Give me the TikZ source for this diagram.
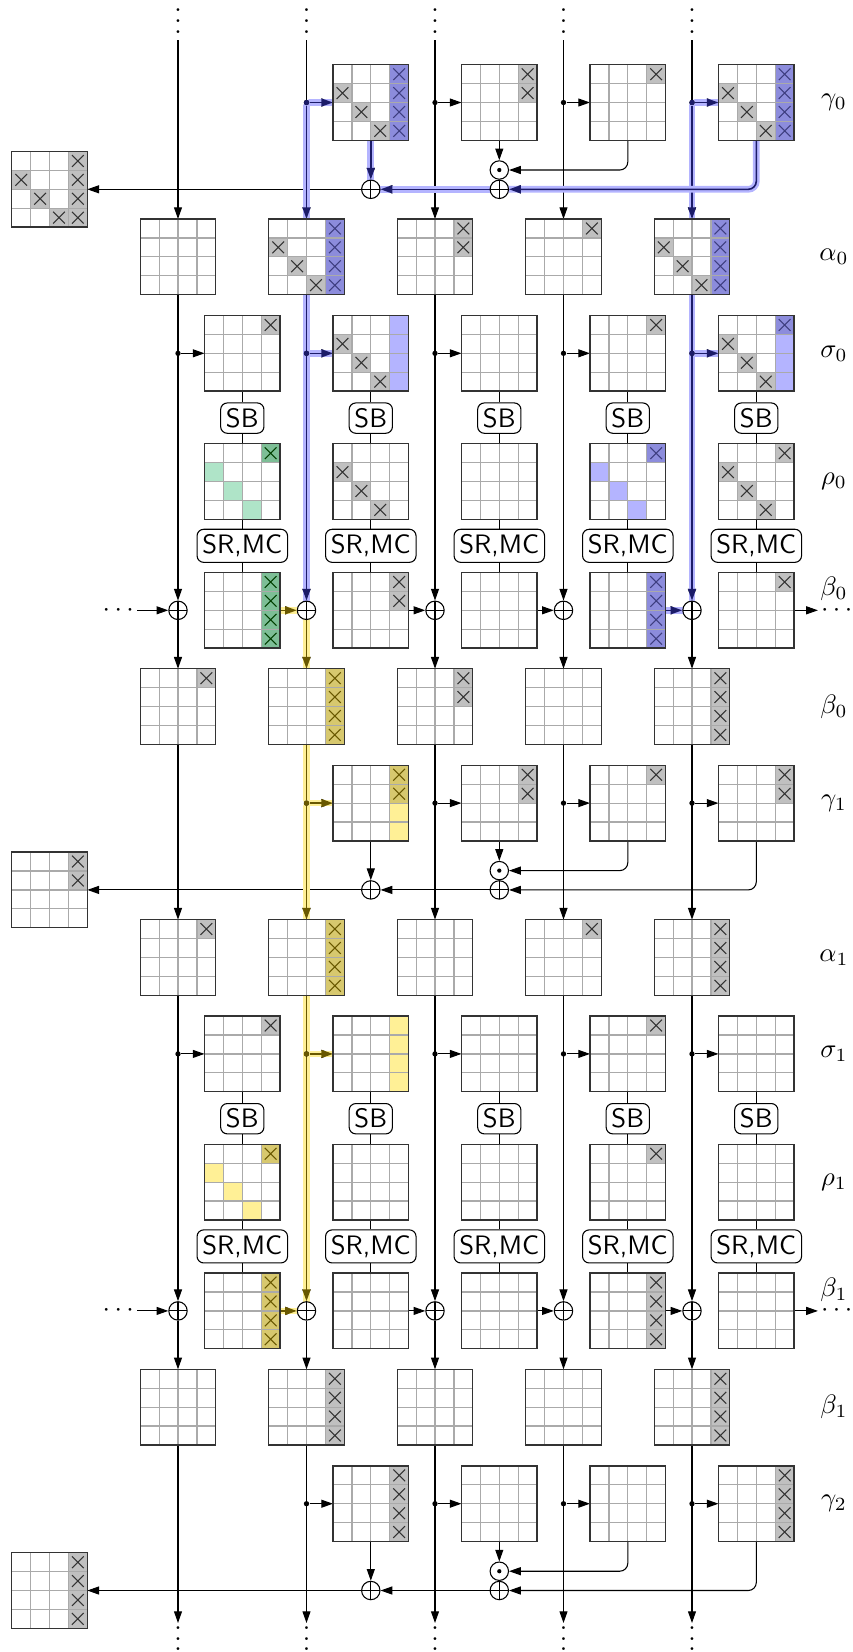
\documentclass[tikz,border=0pt]{standalone}
\usepackage{tikz}
\usetikzlibrary{arrows.meta}
\definecolor{cellgray}{RGB}{192,192,192}
\definecolor{gridgray}{RGB}{170,170,170}
\definecolor{blueD}{RGB}{140,140,220}
\definecolor{blueL}{RGB}{180,180,255}
\definecolor{greenD}{RGB}{125,190,150}
\definecolor{greenL}{RGB}{175,228,200}
\definecolor{yellowD}{RGB}{215,200,110}
\definecolor{yellowL}{RGB}{255,240,150}
\definecolor{navy}{RGB}{28,28,105}
\definecolor{olivedk}{RGB}{105,88,0}
\pgfdeclarelayer{bg}
\pgfsetlayers{bg,main}

\newcommand{\cellsz}{18.9}
% one 4x4 state: name, centre, marked cells (row/col/kind)
\newcommand{\smat}[3]{%
  \node[matbox] (#1) at (#2) {};
  \if\relax\detokenize{#3}\relax\else
    \foreach \mr/\mc/\mk in {#3}
      {\path[\mk] ([shift={(\mc*\cellsz,\mr*\cellsz)}]#1.north west) rectangle ++(\cellsz,\cellsz);}%
  \fi
  \foreach \i in {1,2,3}
    {\draw[gridline] ([shift={(\i*\cellsz,0)}]#1.north west) -- ++(0,4*\cellsz)
       ([shift={(0,\i*\cellsz)}]#1.north west) -- ++(4*\cellsz,0);}%
  \draw[matline] (#1.north west) rectangle (#1.south east);
}

\begin{document}
\begin{tikzpicture}[x=0.375pt,y=-0.375pt,
    >={Triangle[length=4.4pt,width=3pt]},
    matbox/.style={rectangle,fill=white,minimum size=28.35pt,inner sep=0,outer sep=0},
    gridline/.style={draw=gridgray,line width=0.45pt},
    matline/.style={draw=black!80,line width=0.5pt},
    crossed/.style={path picture={
      \draw[#1,line width=0.4pt]
        ([shift={(-2.2pt,-2.2pt)}]path picture bounding box.center) -- ([shift={(2.2pt,2.2pt)}]path picture bounding box.center)
        ([shift={(-2.2pt,2.2pt)}]path picture bounding box.center) -- ([shift={(2.2pt,-2.2pt)}]path picture bounding box.center);}},
    cgx/.style={fill=cellgray,crossed=black!80},
    cbx/.style={fill=blueD,crossed=navy!85},
    cbo/.style={fill=blueL},
    cex/.style={fill=greenD,crossed=green!25!black},
    ceo/.style={fill=greenL},
    cyx/.style={fill=yellowD,crossed=olivedk},
    cyo/.style={fill=yellowL},
    dotn/.style={circle,fill=black,inner sep=0,minimum size=2pt},
    oplusn/.style={circle,draw,fill=white,inner sep=0,minimum size=6.9pt,
      path picture={\draw[black] (path picture bounding box.north) -- (path picture bounding box.south)
        (path picture bounding box.west) -- (path picture bounding box.east);}},
    odotn/.style={circle,draw,fill=white,inner sep=0,minimum size=6.9pt,
      path picture={\fill[black] (path picture bounding box.center) circle (0.8pt);}},
    opbox/.style={draw,rounded corners=2.5pt,fill=white,inner sep=2pt,font=\sffamily},
    vdotn/.style={anchor=south,inner sep=0,text height=9.5pt,text depth=0pt},
    lbl/.style={inner sep=0},
    hlb/.style={draw=navy,line width=0.6pt,preaction={draw=blueL,line width=2.5pt,line cap=round,-}},
    hly/.style={draw=olivedk,line width=0.6pt,preaction={draw=yellowL,line width=2.5pt,line cap=round,-}}]
  \useasboundingbox (0,0) rectangle (853,1652);

  % gamma 0
  \smat{gam0-1}{370.8,102.5}{0/3/cbx,1/3/cbx,2/3/cbx,3/3/cbx,1/0/cgx,2/1/cgx,3/2/cgx}
  \smat{gam0-2}{499.3,102.5}{0/3/cgx,1/3/cgx}
  \smat{gam0-3}{627.8,102.5}{0/3/cgx}
  \smat{gam0-4}{756.3,102.5}{0/3/cbx,1/3/cbx,2/3/cbx,3/3/cbx,1/0/cgx,2/1/cgx,3/2/cgx}
  \smat{out0}{49.5,189.3}{0/3/cgx,1/3/cgx,2/3/cgx,3/3/cgx,1/0/cgx,2/1/cgx,3/2/cgx}
  % round 0
  \smat{alp0-0}{178,256.8}{}
  \smat{alp0-1}{306.5,256.8}{0/3/cbx,1/3/cbx,2/3/cbx,3/3/cbx,1/0/cgx,2/1/cgx,3/2/cgx}
  \smat{alp0-2}{435,256.8}{0/3/cgx,1/3/cgx}
  \smat{alp0-3}{563.5,256.8}{0/3/cgx}
  \smat{alp0-4}{692,256.8}{0/3/cbx,1/3/cbx,2/3/cbx,3/3/cbx,1/0/cgx,2/1/cgx,3/2/cgx}
  \smat{sig0-0}{242.3,353.3}{0/3/cgx}
  \smat{sig0-1}{370.8,353.3}{0/3/cbo,1/3/cbo,2/3/cbo,3/3/cbo,1/0/cgx,2/1/cgx,3/2/cgx}
  \smat{sig0-2}{499.3,353.3}{}
  \smat{sig0-3}{627.8,353.3}{0/3/cgx}
  \smat{sig0-4}{756.3,353.3}{0/3/cbx,1/3/cbo,2/3/cbo,3/3/cbo,1/0/cgx,2/1/cgx,3/2/cgx}
  \smat{rho0-0}{242.3,481.5}{0/3/cex,1/0/ceo,2/1/ceo,3/2/ceo}
  \smat{rho0-1}{370.8,481.5}{1/0/cgx,2/1/cgx,3/2/cgx}
  \smat{rho0-2}{499.3,481.5}{}
  \smat{rho0-3}{627.8,481.5}{0/3/cbx,1/0/cbo,2/1/cbo,3/2/cbo}
  \smat{rho0-4}{756.3,481.5}{0/3/cgx,1/0/cgx,2/1/cgx,3/2/cgx}
  \smat{bu0-0}{242.3,610.3}{0/3/cex,1/3/cex,2/3/cex,3/3/cex}
  \smat{bu0-1}{370.8,610.3}{0/3/cgx,1/3/cgx}
  \smat{bu0-2}{499.3,610.3}{}
  \smat{bu0-3}{627.8,610.3}{0/3/cbx,1/3/cbx,2/3/cbx,3/3/cbx}
  \smat{bu0-4}{756.3,610.3}{0/3/cgx}
  \smat{bl0-0}{178,706.5}{0/3/cgx}
  \smat{bl0-1}{306.5,706.5}{0/3/cyx,1/3/cyx,2/3/cyx,3/3/cyx}
  \smat{bl0-2}{435,706.5}{0/3/cgx,1/3/cgx}
  \smat{bl0-3}{563.5,706.5}{}
  \smat{bl0-4}{692,706.5}{0/3/cgx,1/3/cgx,2/3/cgx,3/3/cgx}
  % gamma 1
  \smat{gam1-1}{370.8,803.1}{0/3/cyx,1/3/cyx,2/3/cyo,3/3/cyo}
  \smat{gam1-2}{499.3,803.1}{0/3/cgx,1/3/cgx}
  \smat{gam1-3}{627.8,803.1}{0/3/cgx}
  \smat{gam1-4}{756.3,803.1}{0/3/cgx,1/3/cgx}
  \smat{out1}{49.5,889.9}{0/3/cgx,1/3/cgx}
  % round 1
  \smat{alp1-0}{178,957.4}{0/3/cgx}
  \smat{alp1-1}{306.5,957.4}{0/3/cyx,1/3/cyx,2/3/cyx,3/3/cyx}
  \smat{alp1-2}{435,957.4}{}
  \smat{alp1-3}{563.5,957.4}{0/3/cgx}
  \smat{alp1-4}{692,957.4}{0/3/cgx,1/3/cgx,2/3/cgx,3/3/cgx}
  \smat{sig1-0}{242.3,1053.9}{0/3/cgx}
  \smat{sig1-1}{370.8,1053.9}{0/3/cyo,1/3/cyo,2/3/cyo,3/3/cyo}
  \smat{sig1-2}{499.3,1053.9}{}
  \smat{sig1-3}{627.8,1053.9}{0/3/cgx}
  \smat{sig1-4}{756.3,1053.9}{}
  \smat{rho1-0}{242.3,1182.1}{0/3/cyx,1/0/cyo,2/1/cyo,3/2/cyo}
  \smat{rho1-1}{370.8,1182.1}{}
  \smat{rho1-2}{499.3,1182.1}{}
  \smat{rho1-3}{627.8,1182.1}{0/3/cgx}
  \smat{rho1-4}{756.3,1182.1}{}
  \smat{bu1-0}{242.3,1310.9}{0/3/cyx,1/3/cyx,2/3/cyx,3/3/cyx}
  \smat{bu1-1}{370.8,1310.9}{}
  \smat{bu1-2}{499.3,1310.9}{}
  \smat{bu1-3}{627.8,1310.9}{0/3/cgx,1/3/cgx,2/3/cgx,3/3/cgx}
  \smat{bu1-4}{756.3,1310.9}{}
  \smat{bl1-0}{178,1407.1}{}
  \smat{bl1-1}{306.5,1407.1}{0/3/cgx,1/3/cgx,2/3/cgx,3/3/cgx}
  \smat{bl1-2}{435,1407.1}{}
  \smat{bl1-3}{563.5,1407.1}{}
  \smat{bl1-4}{692,1407.1}{0/3/cgx,1/3/cgx,2/3/cgx,3/3/cgx}
  % gamma 2
  \smat{gam2-1}{370.8,1503.7}{0/3/cgx,1/3/cgx,2/3/cgx,3/3/cgx}
  \smat{gam2-2}{499.3,1503.7}{}
  \smat{gam2-3}{627.8,1503.7}{}
  \smat{gam2-4}{756.3,1503.7}{0/3/cgx,1/3/cgx,2/3/cgx,3/3/cgx}
  \smat{out2}{49.5,1590.5}{0/3/cgx,1/3/cgx,2/3/cgx,3/3/cgx}

  % column ends
  \foreach \i in {0,...,4}{
    \coordinate (top\i) at (178+128.5*\i,40);
    \coordinate (bot\i) at (178+128.5*\i,1623);
    \node[vdotn] (vt\i) at (178+128.5*\i,33.7) {$\vdots$};
    \node[vdotn] (vb\i) at (178+128.5*\i,1651.5) {$\vdots$};
  }
  % tweak combination
  \foreach \k in {0,1,2}{
    \pgfmathsetmacro{\yg}{102.5+700.6*\k}
    \foreach \i in {1,...,4}
      \node[dotn] (dg\k-\i) at (178+128.5*\i,\yg) {};
    \node[odotn] (odot\k) at (499.3,\yg+67.5) {};
    \node[oplusn] (oplA\k) at (499.3,\yg+86.8) {};
    \node[oplusn] (oplB\k) at (370.8,\yg+86.8) {};
  }
  % round function
  \foreach \k in {0,1}{
    \pgfmathsetmacro{\yr}{102.5+700.6*\k}
    \foreach \i in {0,...,4}{
      \node[dotn] (ds\k-\i) at (178+128.5*\i,\yr+250.8) {};
      \node[opbox] (sb\k-\i) at (242.3+128.5*\i,\yr+315.6) {SB};
      \node[opbox] (mc\k-\i) at (242.3+128.5*\i,\yr+443.3) {SR,MC};
      \node[oplusn] (xor\k-\i) at (178+128.5*\i,\yr+507.8) {};
    }
    \node[inner sep=1pt] (ld\k) at (118.3,\yr+507.8) {$\cdots$};
    \node[inner sep=1pt] (rd\k) at (836.7,\yr+507.8) {$\cdots$};
  }
  \foreach \t/\y [count=\n] in {\gamma_0/102.5,\alpha_0/256.8,\sigma_0/353.3,\rho_0/481.5,
      \beta_0/589,\beta_0/706.5,\gamma_1/803.1,\alpha_1/957.4,\sigma_1/1053.9,\rho_1/1182.1,
      \beta_1/1289.6,\beta_1/1407.1,\gamma_2/1503.7}
    \node[lbl] (lab\n) at (834,\y) {$\t$};

  \begin{pgfonlayer}{bg}
    \foreach \i in {0,...,4}{
      \draw[->] (top\i) -- (alp0-\i);
      \draw[->] (bl0-\i) -- (alp1-\i);
      \draw[->] (bl1-\i) -- (bot\i);
    }
    \foreach \k in {0,1,2}{
      \foreach \i in {1,...,4} \draw[->] (dg\k-\i) -- (gam\k-\i);
      \draw[->] (gam\k-1) -- (oplB\k);
      \draw[->] (gam\k-2) -- (odot\k);
      \draw[->,rounded corners=3pt] (gam\k-3.south) |- (odot\k);
      \draw[->,rounded corners=3pt] (gam\k-4.south) |- (oplA\k);
      \draw[->] (oplA\k) -- (oplB\k);
      \draw[->] (oplB\k) -- (out\k);
    }
    \foreach \k in {0,1}{
      \foreach \i in {0,...,4}{
        \draw[->] (alp\k-\i) -- (xor\k-\i);
        \draw[->] (ds\k-\i) -- (sig\k-\i);
        \draw (sig\k-\i) -- (sb\k-\i) -- (rho\k-\i) -- (mc\k-\i) -- (bu\k-\i);
        \draw[->] (xor\k-\i) -- (bl\k-\i);
      }
      \draw[->] (ld\k) -- (xor\k-0);
      \foreach \i [count=\j from 1] in {0,...,3} \draw[->] (bu\k-\i) -- (xor\k-\j);
      \draw[->] (bu\k-4) -- (rd\k);
    }
    % blue trail
    \draw[hlb,->] (dg0-1) -- (gam0-1);
    \draw[hlb,->] (dg0-1) -- (alp0-1);
    \draw[hlb,->] (dg0-4) -- (gam0-4);
    \draw[hlb,->] (dg0-4) -- (alp0-4);
    \draw[hlb,->] (gam0-1) -- (oplB0);
    \draw[hlb,->,rounded corners=3pt] (gam0-4.south) |- (oplA0);
    \draw[hlb,->] (oplA0) -- (oplB0);
    \draw[hlb,->] (alp0-1) -- (xor0-1);
    \draw[hlb,->] (ds0-1) -- (sig0-1);
    \draw[hlb,->] (alp0-4) -- (xor0-4);
    \draw[hlb,->] (ds0-4) -- (sig0-4);
    \draw[hlb,->] (bu0-3) -- (xor0-4);
    % yellow trail
    \draw[hly,->] (bu0-0) -- (xor0-1);
    \draw[hly,->] (xor0-1) -- (bl0-1);
    \draw[hly] (bl0-1) -- (dg1-1);
    \draw[hly,->] (dg1-1) -- (gam1-1);
    \draw[hly,->] (dg1-1) -- (alp1-1);
    \draw[hly,->] (alp1-1) -- (xor1-1);
    \draw[hly,->] (ds1-1) -- (sig1-1);
    \draw[hly,->] (bu1-0) -- (xor1-1);
  \end{pgfonlayer}
  \foreach \d in {dg0-1,dg0-4,ds0-1,ds0-4} \fill[navy] (\d) circle (1pt);
  \foreach \d in {dg1-1,ds1-1} \fill[olivedk] (\d) circle (1pt);
\end{tikzpicture}
\end{document}
